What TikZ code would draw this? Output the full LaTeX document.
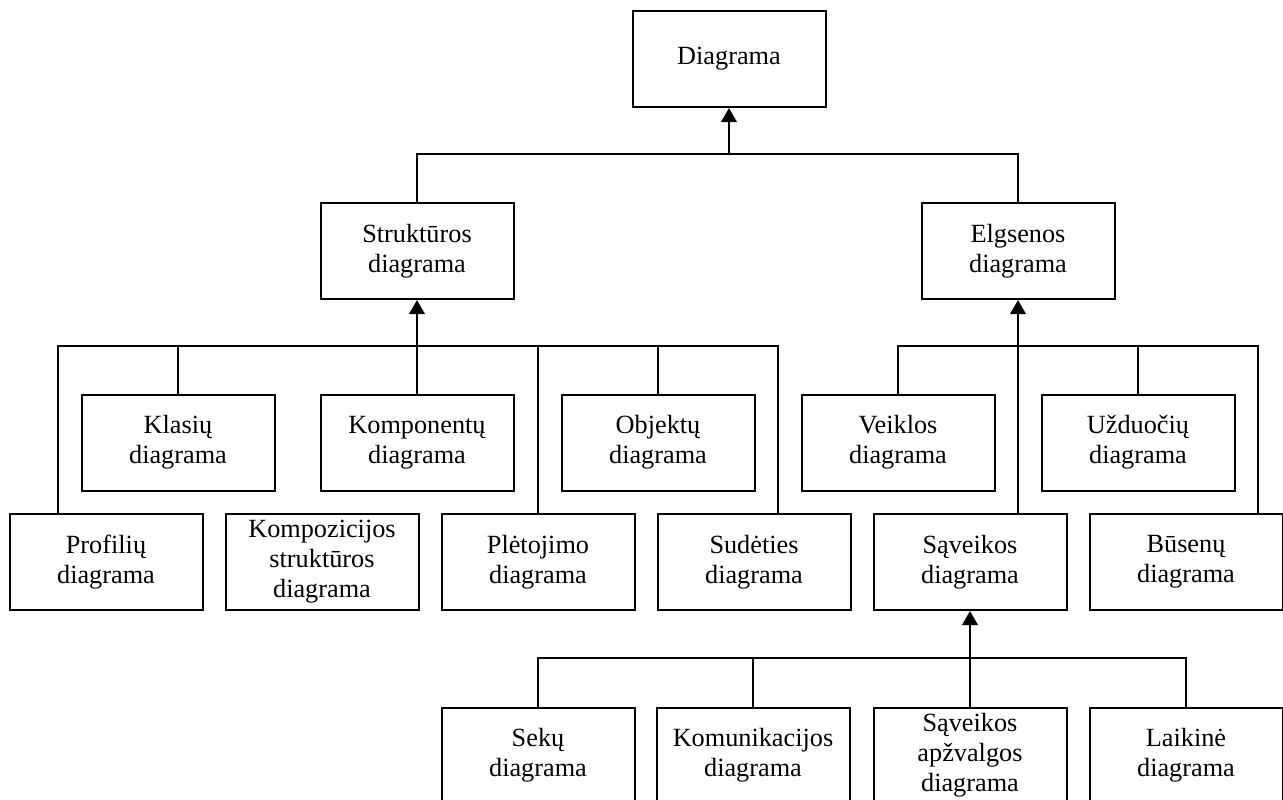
\documentclass[tikz,border=0pt]{standalone}
\usepackage{fontspec}
\setmainfont{Liberation Serif}
\usetikzlibrary{arrows.meta,calc}
\begin{document}
\begin{tikzpicture}[x=0.75pt,y=-0.75pt,
  box/.style={draw, line width=1.5pt, minimum width=144.75pt, minimum height=72pt,
    inner sep=0pt, align=center, font=\fontsize{19.7pt}{22.5pt}\selectfont},
  conn/.style={line width=1.3pt},
  arr/.style={line width=1.9pt, -{Triangle[width=11.5pt,length=10.5pt]}}]
\useasboundingbox (0,0) rectangle (1283,800);
\clip (0,0) rectangle (1283,800);
% nodes
\node[box] (diag) at (729,59) {Diagrama};
\node[box] (str) at (417,251) {Struktūros\\diagrama};
\node[box] (elg) at (1018,251) {Elgsenos\\diagrama};
\node[box] (kla) at (178,442.5) {Klasių\\diagrama};
\node[box] (kmp) at (417,442.5) {Komponentų\\diagrama};
\node[box] (obj) at (658,442.5) {Objektų\\diagrama};
\node[box] (vei) at (898,442.5) {Veiklos\\diagrama};
\node[box] (uzd) at (1138,442.5) {Užduočių\\diagrama};
\node[box] (pro) at (106,562) {Profilių\\diagrama};
\node[box] (koz) at (322,562) {Kompozicijos\\struktūros\\diagrama};
\node[box] (ple) at (538,562) {Plėtojimo\\diagrama};
\node[box] (sud) at (754,562) {Sudėties\\diagrama};
\node[box] (sav) at (970,562) {Sąveikos\\diagrama};
\node[box] (bus) at (1186,562) {Būsenų\\diagrama};
\node[box] (sek) at (538,755.5) {Sekų\\diagrama};
\node[box] (kom) at (753,755.5) {Komunikacijos\\diagrama};
\node[box] (sap) at (970,755.5) {Sąveikos\\apžvalgos\\diagrama};
\node[box] (lai) at (1186,755.5) {Laikinė\\diagrama};
% bus coordinates
\coordinate (tb) at (729,154);
\coordinate (sb) at (417,346);
\coordinate (eb) at (1018,346);
\coordinate (vb) at (970,658);
% top level
\draw[conn] (str.north) |- (tb) -| (elg.north);
\draw[arr] (tb) -- (diag.south);
% structure bus
\draw[conn] ($(pro.north)+(-48,0)$) |- (sb) -| ($(sud.north)+(24,0)$);
\draw[conn] (kla.north) -- (kla.north |- sb);
\draw[conn] ($(koz.north)+(-25,0)$) -- ($(koz.north)+(-25,0)$ |- sb);
\draw[conn] (ple.north) -- (ple.north |- sb);
\draw[conn] (obj.north) -- (obj.north |- sb);
\draw[arr] (kmp.north) -- (str.south);
% behaviour bus
\draw[conn] (vei.north) |- (eb) -| ($(bus.north)+(72,0)$);
\draw[conn] (uzd.north) -- (uzd.north |- eb);
\draw[arr] ($(sav.north)+(48,0)$) -- (elg.south);
% interaction bus
\draw[conn] (sek.north) |- (vb) -| (lai.north);
\draw[conn] (kom.north) -- (kom.north |- vb);
\draw[arr] (sap.north) -- (sav.south);
\end{tikzpicture}
\end{document}
